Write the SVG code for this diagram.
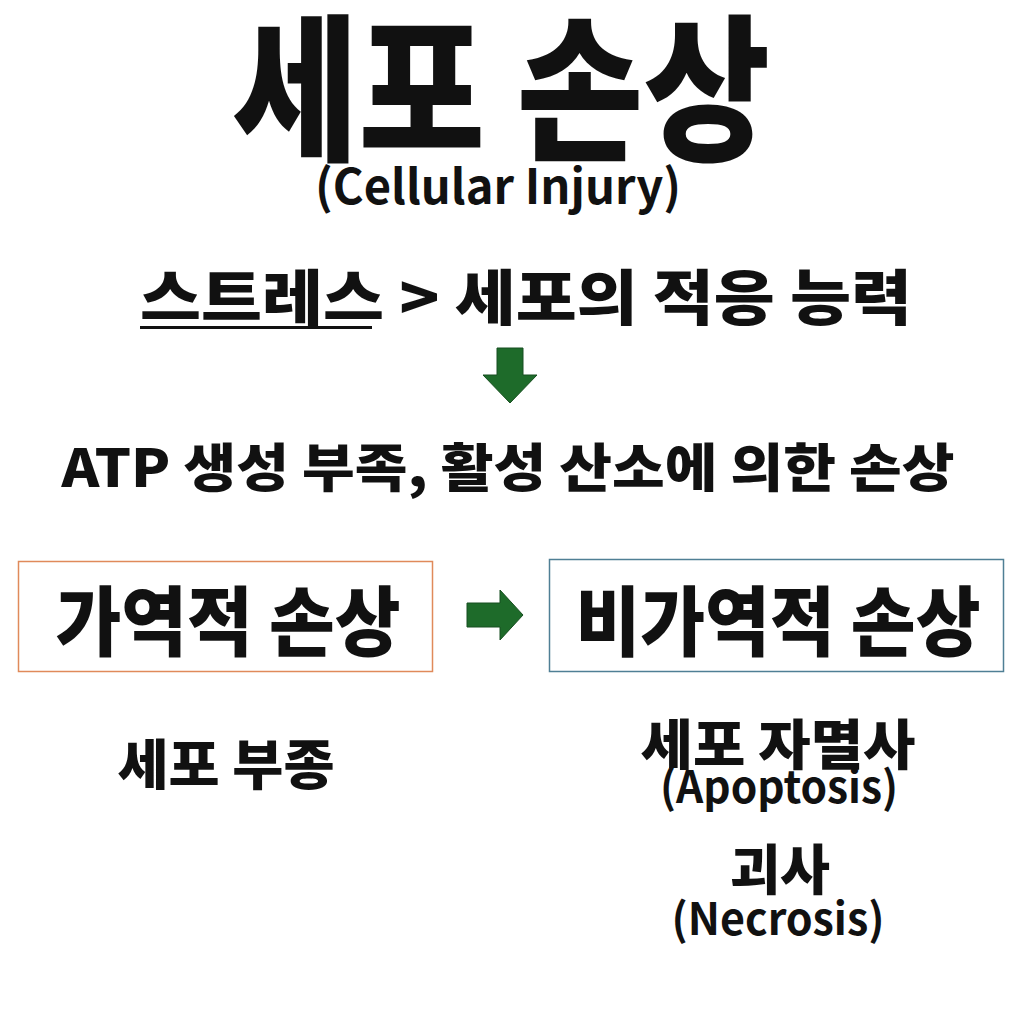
<svg xmlns="http://www.w3.org/2000/svg" width="1024" height="1024" viewBox="0 0 1024 1024">
<style>
text{font-family:"Noto Sans CJK KR","Noto Sans",sans-serif;font-weight:900;fill:#111;text-anchor:middle}
.lat{font-weight:700}
.arrow{fill:#1e6b2a;stroke:#174f20;stroke-width:1}
</style>
<rect width="1024" height="1024" fill="#fff"/>
<g id="title">
<text x="501" y="148" font-size="158" textLength="538" lengthAdjust="spacingAndGlyphs">세포 손상</text>
<text class="lat" x="498" y="204" font-size="48" textLength="366" lengthAdjust="spacingAndGlyphs">(Cellular Injury)</text>
</g>
<g id="stress">
<text x="526" y="320" font-size="60" textLength="772" lengthAdjust="spacingAndGlyphs">스트레스 &gt; 세포의 적응 능력</text>
<rect x="140" y="326" width="232" height="3" fill="#111"/>
</g>
<g id="atp">
<text x="508" y="487" font-size="52" textLength="893" lengthAdjust="spacingAndGlyphs">ATP 생성 부족, 활성 산소에 의한 손상</text>
</g>
<g id="reversible">
<rect x="18.5" y="561.5" width="414" height="110" fill="none" stroke="#e08a5a" stroke-width="1.5"/>
<text x="228" y="650" font-size="76" textLength="345" lengthAdjust="spacingAndGlyphs">가역적 손상</text>
</g>
<g id="irreversible">
<rect x="549.5" y="559.5" width="454" height="112" fill="none" stroke="#4f7f95" stroke-width="1.5"/>
<text x="778" y="650" font-size="76" textLength="405" lengthAdjust="spacingAndGlyphs">비가역적 손상</text>
</g>
<g id="edema">
<text x="226" y="785" font-size="54" textLength="217" lengthAdjust="spacingAndGlyphs">세포 부종</text>
</g>
<g id="apoptosis">
<text x="778" y="765" font-size="54" textLength="275" lengthAdjust="spacingAndGlyphs">세포 자멸사</text>
<text class="lat" x="779" y="803" font-size="44" textLength="238" lengthAdjust="spacingAndGlyphs">(Apoptosis)</text>
</g>
<g id="necrosis">
<text x="780" y="890" font-size="54" textLength="100" lengthAdjust="spacingAndGlyphs">괴사</text>
<text class="lat" x="778" y="935" font-size="44" textLength="213" lengthAdjust="spacingAndGlyphs">(Necrosis)</text>
</g>
<g id="connectors">
<path class="arrow" d="M497,348 H523 V375 H537 L510,403 L483,375 H497 Z"/>
<path class="arrow" d="M467,603 H500 V590 L523,615 L500,640 V627 H467 Z"/>
</g>
</svg>
